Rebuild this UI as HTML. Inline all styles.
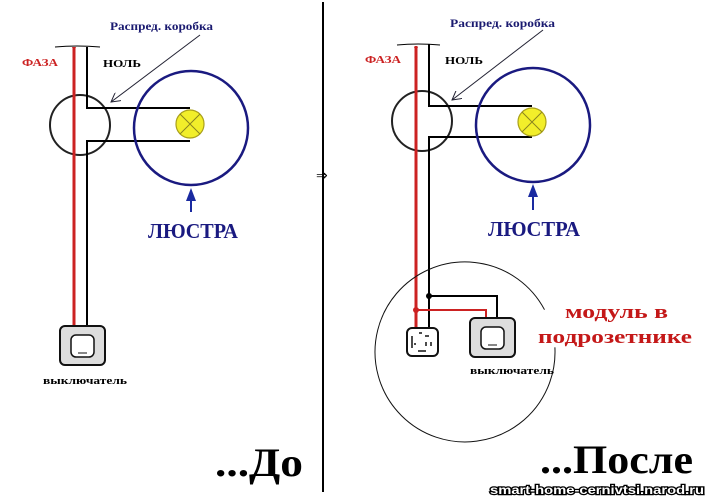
<!DOCTYPE html>
<html><head><meta charset="utf-8"><style>
html,body{margin:0;padding:0;background:#fff;}
svg{display:block;}
text{font-family:"Liberation Serif",serif;font-weight:bold;}
</style></head><body>
<svg width="706" height="498" viewBox="0 0 706 498" xmlns="http://www.w3.org/2000/svg">
<defs>
<marker id="ah" markerWidth="10" markerHeight="10" refX="9" refY="5" orient="auto" markerUnits="userSpaceOnUse"><path d="M0,0 L9,5 L0,10" fill="none" stroke="#223" stroke-width="1"/></marker>
</defs>
<!-- LEFT -->
<path d="M55,47 Q77,45 100,47" fill="none" stroke="#000" stroke-width="1"/>
<circle cx="80" cy="125" r="30" fill="none" stroke="#222" stroke-width="2"/>
<line x1="74" y1="48" x2="74" y2="326" stroke="#c22" stroke-width="3"/>
<path d="M74,52 l-2,-5 h4z" fill="#c22"/>
<path d="M87,47 V108 H190 M190,141 H87 V326" fill="none" stroke="#000" stroke-width="2"/>
<circle cx="191" cy="128" r="57" fill="none" stroke="#1a1a80" stroke-width="2.5"/>
<circle cx="190" cy="124" r="14" fill="#f2ee2a" stroke="#aaa01a" stroke-width="1.2"/>
<path d="M180,114 L200,134 M200,114 L180,134" stroke="#8a8420" stroke-width="1"/>
<line x1="200" y1="35" x2="111" y2="102" stroke="#223" stroke-width="1" marker-end="url(#ah)"/>
<line x1="191" y1="212" x2="191" y2="198" stroke="#1a2aa0" stroke-width="2"/>
<path d="M191,188 L186,201 L196,201z" fill="#1a2aa0"/>
<text x="110" y="30" font-size="12" fill="#1a1a70" textLength="103" lengthAdjust="spacingAndGlyphs">Распред. коробка</text>
<text x="22" y="66" font-size="11" fill="#c22" textLength="36" lengthAdjust="spacingAndGlyphs">ФАЗА</text>
<text x="103" y="67" font-size="11" fill="#000" textLength="38" lengthAdjust="spacingAndGlyphs">НОЛЬ</text>
<text x="148" y="238" font-size="21" fill="#1a1a80" textLength="90" lengthAdjust="spacingAndGlyphs">ЛЮСТРА</text>
<rect x="60" y="326" width="45" height="39" rx="5" fill="#ddd" stroke="#111" stroke-width="2"/>
<rect x="71" y="335" width="23" height="22" rx="5" fill="#fff" stroke="#111" stroke-width="1.5"/>
<line x1="78" y1="353" x2="87" y2="353" stroke="#111" stroke-width="1"/>
<text x="43" y="384" font-size="11" fill="#000" textLength="84" lengthAdjust="spacingAndGlyphs">выключатель</text>
<text x="215" y="476" font-size="40" fill="#000" textLength="88" lengthAdjust="spacingAndGlyphs">...До</text>
<!-- divider -->
<line x1="323" y1="2" x2="323" y2="492" stroke="#000" stroke-width="2"/>
<text x="316" y="180" font-size="14" fill="#000" style="font-weight:normal">⇒</text>
<!-- RIGHT -->
<path d="M397,45 Q418,43 440,45" fill="none" stroke="#000" stroke-width="1"/>
<circle cx="422" cy="121" r="30" fill="none" stroke="#222" stroke-width="2"/>
<line x1="416" y1="46" x2="416" y2="330" stroke="#c22" stroke-width="3"/>
<path d="M416,52 l-2,-5 h4z" fill="#c22"/>
<path d="M429,44 V106 H532 M532,137 H429 V330" fill="none" stroke="#000" stroke-width="2"/>
<circle cx="533" cy="125" r="57" fill="none" stroke="#1a1a80" stroke-width="2.5"/>
<circle cx="532" cy="122" r="14" fill="#f2ee2a" stroke="#aaa01a" stroke-width="1.2"/>
<path d="M522,112 L542,132 M542,112 L522,132" stroke="#8a8420" stroke-width="1"/>
<line x1="543" y1="30" x2="452" y2="100" stroke="#223" stroke-width="1" marker-end="url(#ah)"/>
<line x1="533" y1="210" x2="533" y2="195" stroke="#1a2aa0" stroke-width="2"/>
<path d="M533,184 L528,197 L538,197z" fill="#1a2aa0"/>
<text x="450" y="27" font-size="12" fill="#1a1a70" textLength="105" lengthAdjust="spacingAndGlyphs">Распред. коробка</text>
<text x="365" y="63" font-size="11" fill="#c22" textLength="36" lengthAdjust="spacingAndGlyphs">ФАЗА</text>
<text x="445" y="64" font-size="11" fill="#000" textLength="38" lengthAdjust="spacingAndGlyphs">НОЛЬ</text>
<text x="488" y="236" font-size="21" fill="#1a1a80" textLength="92" lengthAdjust="spacingAndGlyphs">ЛЮСТРА</text>
<path d="M554.9,347.3 A90,90 0 1 1 544.5,309.7" fill="none" stroke="#111" stroke-width="1"/>
<path d="M429,296 H497 V318" fill="none" stroke="#000" stroke-width="2"/>
<path d="M416,310 H486 V318" fill="none" stroke="#c22" stroke-width="2"/>
<circle cx="429" cy="296" r="3" fill="#000"/>
<circle cx="416" cy="310" r="3" fill="#c22"/>
<rect x="407" y="328" width="31" height="28" rx="5" fill="#fff" stroke="#111" stroke-width="2"/>
<path d="M412,336 v12 M419,333 h3 M425,336 h4 M426,342 v4 M431,342 v4 M418,351 h8 M414,344 h2" stroke="#111" stroke-width="1.5"/>
<rect x="470" y="318" width="45" height="39" rx="5" fill="#ddd" stroke="#111" stroke-width="2"/>
<rect x="481" y="327" width="23" height="22" rx="5" fill="#fff" stroke="#111" stroke-width="1.5"/>
<line x1="488" y1="345" x2="497" y2="345" stroke="#111" stroke-width="1"/>
<text x="470" y="374" font-size="11" fill="#000" textLength="84" lengthAdjust="spacingAndGlyphs">выключатель</text>
<text x="565" y="318" font-size="19" fill="#c41818" textLength="103" lengthAdjust="spacingAndGlyphs">модуль в</text>
<text x="538" y="343" font-size="19" fill="#c41818" textLength="154" lengthAdjust="spacingAndGlyphs">подрозетнике</text>
<text x="540" y="473" font-size="40" fill="#000" textLength="153" lengthAdjust="spacingAndGlyphs">...После</text>
<text x="490" y="494" font-size="12" fill="#fff" stroke="#000" stroke-width="2.5" paint-order="stroke" textLength="214" lengthAdjust="spacingAndGlyphs" style="font-family:'Liberation Sans',sans-serif">smart-home-cernivtsi.narod.ru</text>
</svg>
</body></html>
